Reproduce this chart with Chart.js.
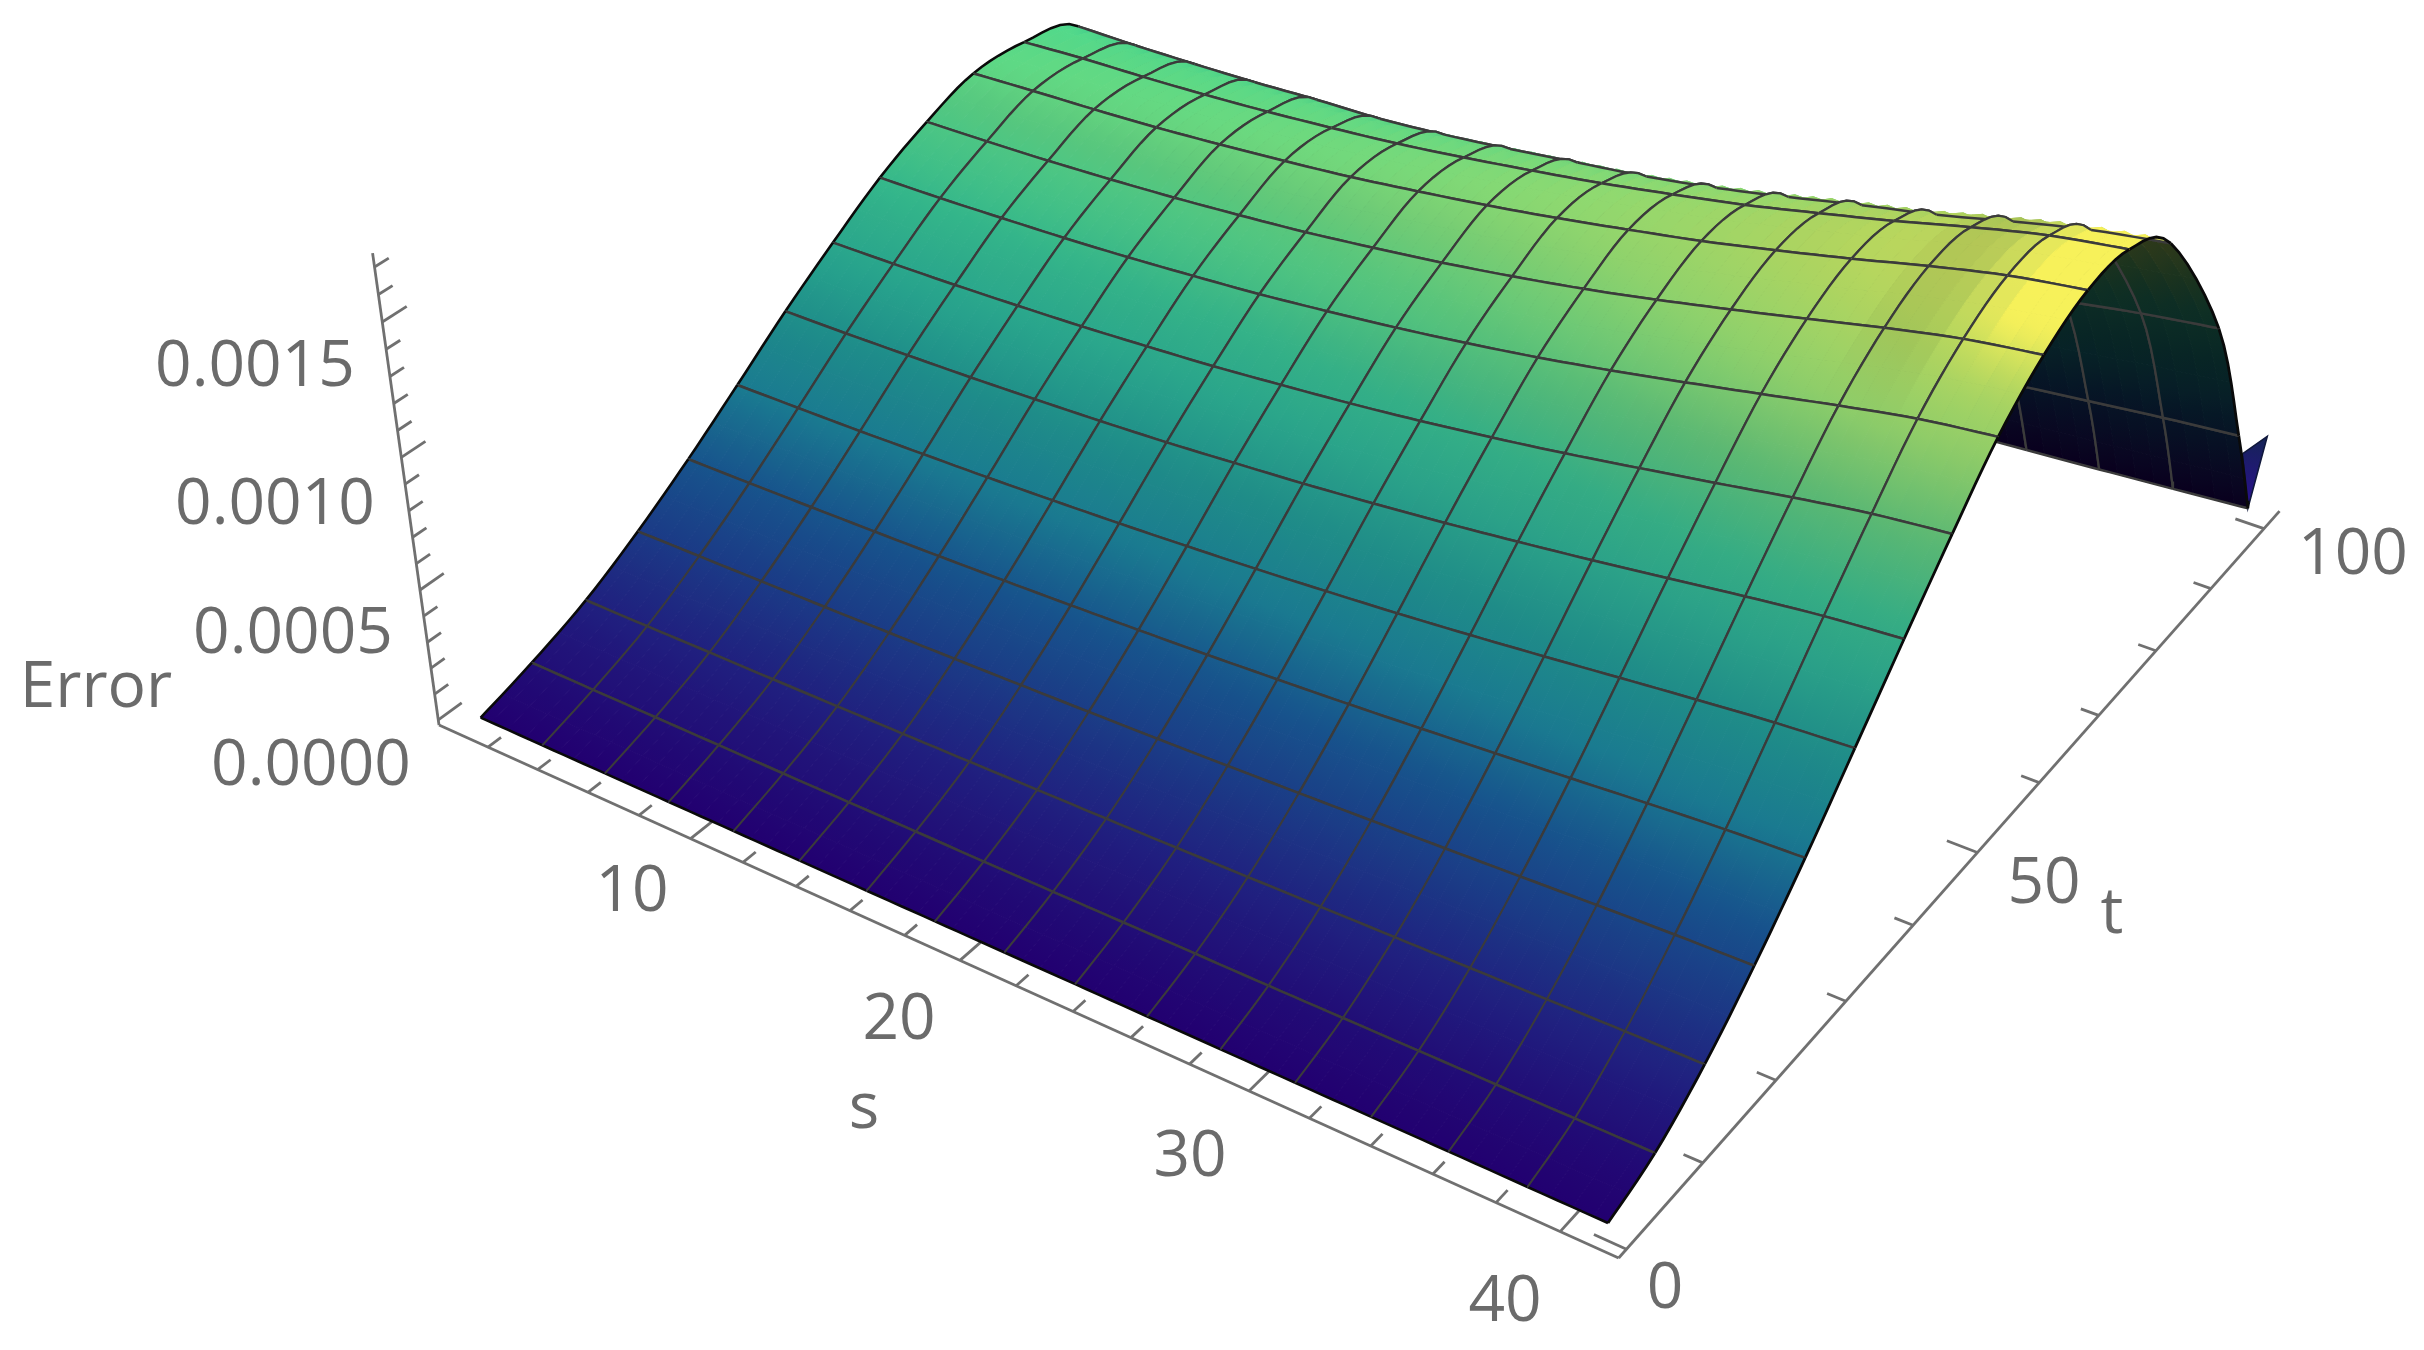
<!DOCTYPE html>
<html><head><meta charset="utf-8">
<style>html,body{margin:0;padding:0;background:#fff}canvas{display:block}</style>
<script src="https://cdn.jsdelivr.net/npm/chart.js@4/dist/chart.umd.min.js"></script>
</head><body>
<canvas id="c" width="2424" height="1350"></canvas>
<script>
// ---------- values ----------
const sLines = [1,3.5,6,8.5,11,13.5,16,18.5,21,23.5,26,28.5,31,33.5,36,38.5,41];
// where each t mesh line sits, read along the s=1, s=21 and s=41 sides
const tLinesAtS1  = [1,7,13.55,20.1,26.65,33.2,39.75,46.3,52.85,59.4,65.95,73,80.5,87,91,93];
const tLinesAtS21 = [1,6.95,13.7,20.45,27.2,33.95,40.7,47.45,54.2,61,67.75,74.5,81.3,89.5,94,96];
const tLinesAtS41 = [1,7.2,14,21,28.4,35.8,43.3,50.8,58.1,65.5,72.8,79.8,87,95.7,99.5,101.3];
// Error x 1e-4, one row per s line, one column per t line
const errorRows = [
 [0,.62,1.45,2.58,3.9,5.35,6.84,8.18,9.42,10.34,11.0,10.9,10.1,6.1,2.4,0],
 [0,.62,1.45,2.59,3.91,5.37,6.86,8.21,9.45,10.38,11.1,11.04,10.14,6.12,2.41,0],
 [0,.62,1.46,2.60,3.93,5.39,6.90,8.25,9.51,10.43,11.16,11.1,10.2,6.16,2.42,0],
 [0,.62,1.46,2.61,3.95,5.43,6.94,8.31,9.57,10.51,11.24,11.18,10.27,6.21,2.44,0],
 [0,.62,1.47,2.63,3.98,5.47,7.0,8.38,9.66,10.61,11.36,11.29,10.37,6.26,2.47,0],
 [0,.62,1.48,2.65,4.02,5.53,7.07,8.48,9.78,10.74,11.5,11.43,10.4,6.35,2.5,0],
 [0,.62,1.49,2.68,4.07,5.6,7.16,8.59,9.91,10.89,11.66,11.59,10.55,6.44,2.54,0],
 [0,.61,1.51,2.71,4.13,5.69,7.29,8.75,10.1,11.1,11.88,11.82,10.76,6.57,2.59,0],
 [0,.61,1.52,2.75,4.2,5.79,7.42,8.92,10.31,11.33,12.12,12.07,10.99,6.71,2.65,0],
 [0,.61,1.54,2.8,4.29,5.92,7.59,9.13,10.56,11.61,12.4,12.34,11.2,6.89,2.72,0],
 [0,.61,1.57,2.86,4.39,6.06,7.78,9.38,10.85,11.93,12.72,12.66,11.5,7.09,2.8,0],
 [0,.60,1.6,2.93,4.51,6.23,8.0,9.66,11.19,12.31,13.05,13.0,11.88,7.32,2.89,0],
 [0,.60,1.63,3.0,4.64,6.42,8.24,9.98,11.57,12.73,13.45,13.42,12.29,7.58,3.0,0],
 [0,.6,1.66,3.08,4.77,6.62,8.5,10.3,11.96,13.16,13.88,13.85,12.63,7.85,3.11,0],
 [0,.59,1.69,3.16,4.91,6.81,8.76,10.63,12.35,13.6,14.34,14.33,13.07,8.12,3.22,0],
 [0,.59,1.72,3.22,5.02,6.97,8.97,10.9,12.68,13.96,14.72,14.72,13.43,8.34,3.31,0],
 [0,.59,1.73,3.25,5.07,7.05,9.07,11.03,12.83,14.13,14.9,14.9,13.6,8.45,3.35,0]
];
const errorUnit = 1e-4;
// small flap at the far corner
const flapS = [41,41,41];
const flapT = [100.2,105,101.3];
const flapError = [.000246,.000206,0];
// tick labels
const sTickLabels = ['10','20','30','40'];
const tTickLabels = ['0','50','100'];
const errorTickLabels = ['0.0000','0.0005','0.0010','0.0015'];
const sMinorTicks = [2,4,6,8,10,12,14,16,18,20,22,24,26,28,30,32,34,36,38,40];
const tMinorTicks = [0,10,20,30,40,50,60,70,80,90,100];
const errorMinorTicks = [0,.0001,.0002,.0003,.0004,.0005,.0006,.0007,.0008,.0009,.001,.0011,.0012,.0013,.0014,.0015,.0016,.0017];
const box = {sMax:41.8, tMin:-1, tMax:103, zMin:-.00002, zMax:.00175};

// ---------- camera ----------
function project(s,t,z){
  const v=t+1, q=z/.0005+.04;
  const w=1-.0033*s+.00194*v-.0103*q;
  return {x:(439+22.88*s+9.9*v-22.6*q)/w, y:(725+8.6*s-5.2*v-135.9*q)/w};
}
function tAt(i,k){
  const s=sLines[i];
  const a=(s-21)*(s-41)/((1-21)*(1-41)), b=(s-1)*(s-41)/((21-1)*(21-41)), c=(s-1)*(s-21)/((41-1)*(41-21));
  return a*tLinesAtS1[k]+b*tLinesAtS21[k]+c*tLinesAtS41[k];
}
const NS=sLines.length, NT=tLinesAtS41.length;
function cl(a,lo,hi){return Math.max(lo,Math.min(hi,a));}
function cr(a,b,c,d,f){return .5*(2*b+(c-a)*f+(2*a-5*b+4*c-d)*f*f+(3*b-a-3*c+d)*f*f*f);}
// smooth drawing path between the read nodes
function node(i,k,comp){
  i=cl(i,0,NS-1);k=cl(k,0,NT-1);
  if(comp===0)return sLines[i];
  if(comp===1)return tAt(i,k);
  return errorRows[i][k]*errorUnit;
}
function along(i,kF,comp){
  const k0=cl(Math.floor(kF),0,NT-2),f=kF-k0;
  return cr(node(i,k0-1,comp),node(i,k0,comp),node(i,k0+1,comp),node(i,k0+2,comp),f);
}
function comp3(iF,kF,comp){
  const i0=cl(Math.floor(iF),0,NS-2),f=iF-i0;
  return cr(along(cl(i0-1,0,NS-1),kF,comp),along(i0,kF,comp),along(i0+1,kF,comp),along(cl(i0+2,0,NS-1),kF,comp),f);
}
function surf(iF,kF){
  return {s:comp3(iF,kF,0),t:comp3(iF,kF,1),z:Math.max(0,comp3(iF,kF,2))};
}
function sp(iF,kF){const p=surf(iF,kF);return project(p.s,p.t,p.z);}

// ---------- colour ----------
const colourStops=[[0,[34,0,112]],[.09,[32,31,127]],[.17,[27,59,134]],[.25,[23,83,140]],[.345,[26,122,144]],[.44,[31,140,136]],[.53,[43,161,136]],[.6,[53,172,132]],[.7,[91,184,115]],[.8,[142,203,104]],[.9,[181,214,94]],[.95,[195,214,92]],[1,[215,225,90]]];
function baseColour(n){
  n=cl(n,0,1);
  for(let j=1;j<colourStops.length;j++){
    if(n<=colourStops[j][0]){
      const [a,ca]=colourStops[j-1],[b,cb]=colourStops[j],f=(n-a)/(b-a);
      return ca.map((v,m)=>v+(cb[m]-v)*f);
    }
  }
  return colourStops[colourStops.length-1][1].slice();
}
function colourAt(iF,kF,back){
  const p=surf(iF,kF);
  const n=p.z/.00155;
  let c=baseColour(n);
  if(back) return 'rgb('+c.map(v=>Math.round(v*(.27))).join(',')+')';
  const e=.06;
  const a=surf(iF,cl(kF-e,0,NT-1)),b=surf(iF,cl(kF+e,0,NT-1));
  const dzdt=(b.z-a.z)/Math.max(1e-6,b.t-a.t);
  const slopeAbs=dzdt>0?dzdt:0;
  const flat=cl(1-slopeAbs/2.4e-5,0,1)*cl((.88-n)/.2,0,1)*cl((n-.3)/.2,0,1);
  c[0]-=6*flat;c[1]+=36*flat;c[2]+=24*flat;
  if(dzdt<-1e-5){const d=1-.06*cl((-dzdt-1e-5)/2e-5,0,1);c=c.map(v=>v*d);}
  if(n>.8){
    const dip=cl((iF-13.6)/.5,0,1)*cl((14.9-iF)/.4,0,1)*cl((n-.8)/.08,0,1);
    c=c.map(v=>v*(1-.07*dip));
    const hl=cl((iF-14.8)/.5,0,1)*cl((n-.84)/.08,0,1)*cl((kF-8.2)/1.2,0,1);
    c=c.map((v,m)=>v+([251,243,90][m]-v)*.92*hl);
  }
  return 'rgb('+c.map(v=>Math.round(cl(v,0,255))).join(',')+')';
}

// ---------- datasets (painter's order: far first) ----------
const canvas=document.getElementById('c');
const ctx0=canvas.getContext('2d');
const painted=[];
function polyArea(pts){let a=0;for(let j=0;j<pts.length;j++){const p=pts[j],q=pts[(j+1)%pts.length];a+=p.x*q.y-q.x*p.y;}return a;}
const SL=4, ST=2;
function addSliver(i0,i1,k0,k1){
  const pts=[];
  for(let m=0;m<=2;m++)pts.push(sp(i0,k0+(k1-k0)*m/2));
  for(let m=2;m>=0;m--)pts.push(sp(i1,k0+(k1-k0)*m/2));
  // only clearly reversed patches show the underside; thin ones along the crest stay lit
  const back=polyArea(pts)<-300;
  const im=(i0+i1)/2;
  const A=sp(im,k0),B=sp(im,k1);
  const dx=B.x-A.x,dy=B.y-A.y,L=dx*dx+dy*dy||1;
  const g=ctx0.createLinearGradient(A.x,A.y,B.x,B.y);
  for(let m=0;m<=3;m++){
    const kk=k0+(k1-k0)*m/3,P=sp(im,kk);
    g.addColorStop(cl(((P.x-A.x)*dx+(P.y-A.y)*dy)/L,0,1),colourAt(im,kk,back));
  }
  pts.push(pts[0]);
  painted.push({data:pts,fill:'shape',backgroundColor:g,borderColor:g,borderWidth:1,pointRadius:0,tension:0});
}
function addEdge(pts,colour,width){
  painted.push({data:pts,fill:false,borderColor:colour,borderWidth:width,pointRadius:0,tension:0});
}
const meshColour='#3b3b3b', edgeColour='#0a0a0a';
function edgeS(i,k0,k1){const a=[];for(let m=0;m<=6;m++)a.push(sp(i,k0+(k1-k0)*m/6));return a;}
function edgeT(k,i0,i1){const a=[];for(let m=0;m<=6;m++)a.push(sp(i0+(i1-i0)*m/6,k));return a;}

// flap
{
  const f=flapS.map((s,j)=>project(s,flapT[j],flapError[j]));
  const g=ctx0.createLinearGradient(f[1].x,f[1].y,f[2].x,f[2].y);
  g.addColorStop(0,'#152455');g.addColorStop(1,'#2a0f90');
  painted.push({data:[...f,f[0]],fill:'shape',backgroundColor:g,borderColor:'#10183c',borderWidth:1.5,pointRadius:0,tension:0});
}
for(let k=NT-2;k>=0;k--){
  const sWidth=k<3?1.9:2.3;
  for(let i=0;i<NS-1;i++){
    for(let a=0;a<ST;a++){
      const ka=k+1-a/ST,kb=k+1-(a+1)/ST;
      for(let b=0;b<SL;b++) addSliver(i+b/SL,i+(b+1)/SL,kb,ka);
    }
    addEdge(edgeT(k+1,i,i+1),meshColour,2.5);
    addEdge(edgeT(k,i,i+1),k===0?edgeColour:meshColour,k===0?2.6:2.5);
    addEdge(edgeS(i,k,k+1),i===0?edgeColour:meshColour,i===0?2.6:sWidth);
    addEdge(edgeS(i+1,k,k+1),i+1===NS-1?edgeColour:meshColour,i+1===NS-1?2.8:sWidth);
  }
}
// axes
const axisColour='#707070';
const axisWidth=2.8;
function addAxis(p,q){painted.unshift({data:[p,q],fill:false,borderColor:axisColour,borderWidth:axisWidth,pointRadius:0,tension:0});}
addAxis(project(0,box.tMin,box.zMin),project(box.sMax,box.tMin,box.zMin));
addAxis(project(box.sMax,box.tMin,box.zMin),project(box.sMax,box.tMax,box.zMin));
addAxis(project(0,box.tMin,box.zMin),project(0,box.tMin,box.zMax));
sMinorTicks.forEach(s=>{const M=s%10===0;addAxis(project(s,box.tMin,box.zMin),project(s,box.tMin+(M?2.4:1.45),box.zMin));});
tMinorTicks.forEach(t=>{const M=t%50===0;addAxis(project(box.sMax,t,box.zMin),project(box.sMax-(M?1.0:.6),t,box.zMin));});
errorMinorTicks.forEach(z=>{const n=Math.round(z*1e4);const M=n%5===0;addAxis(project(0,box.tMin,z),project(0,box.tMin+(M?2.6:1.5),z));});

// ---------- text layout ----------
const textItems=[
 ...errorTickLabels.map((t,j)=>({t,x:[311,293,275,255][j],y:[762,630,501,363][j]})),
 ...sTickLabels.map((t,j)=>({t,x:[632,899,1190,1505][j],y:[888,1016,1153,1298][j]})),
 ...tTickLabels.map((t,j)=>({t,x:[1665,2044,2353][j],y:[1285,880,551][j]})),
 {t:'Error',x:96,y:684},{t:'s',x:864,y:1105},{t:'t',x:2112,y:910}
];
const textPlugin={id:'axisText',afterDraw(chart){
  const c=chart.ctx;c.save();c.fillStyle='#6b6b6b';c.font='64px "Open Sans"';c.textAlign='center';c.textBaseline='alphabetic';
  textItems.forEach(o=>c.fillText(o.t,o.x,o.y+23));c.restore();
}};

painted.reverse();
new Chart(canvas,{
  type:'line',
  data:{datasets:painted},
  plugins:[textPlugin],
  options:{
    responsive:false,animation:false,events:[],parsing:false,normalized:false,
    layout:{padding:0},
    plugins:{legend:{display:false},tooltip:{enabled:false},title:{display:false}},
    scales:{
      x:{type:'linear',min:0,max:2424,display:false},
      y:{type:'linear',min:0,max:1350,reverse:true,display:false}
    }
  }
});
</script>
</body></html>
